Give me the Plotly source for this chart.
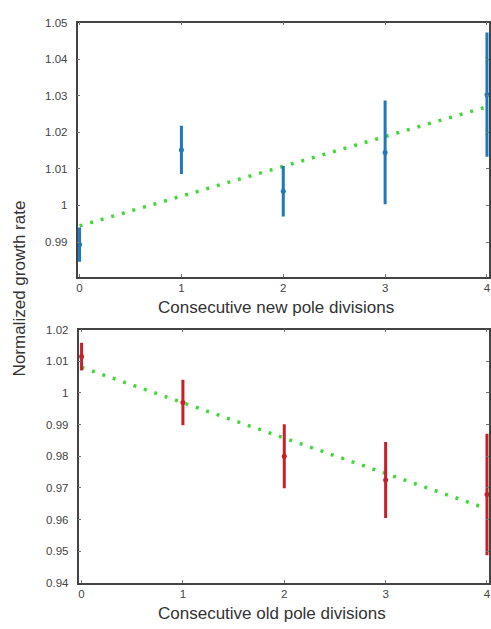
import plotly.graph_objects as go

# Top panel: consecutive new pole divisions
new_x = [0, 1, 2, 3, 4]
new_mean = [0.9893, 1.0152, 1.0039, 1.0145, 1.0303]
new_err = [0.0047, 0.0066, 0.0069, 0.0142, 0.0170]
new_fit_x = [0, 4]
new_fit_y = [0.9944, 1.0270]

# Bottom panel: consecutive old pole divisions
old_x = [0, 1, 2, 3, 4]
old_mean = [1.0115, 0.9970, 0.9800, 0.9725, 0.9679]
old_err = [0.0044, 0.0072, 0.0101, 0.0120, 0.0192]
old_fit_x = [0, 4]
old_fit_y = [1.0081, 0.9634]

top_yticks = [0.99, 1.0, 1.01, 1.02, 1.03, 1.04, 1.05]
bot_yticks = [0.94, 0.95, 0.96, 0.97, 0.98, 0.99, 1.0, 1.01, 1.02]
xticks = [0, 1, 2, 3, 4]

BLUE = "#1f77bd"
RED = "#c8202a"
GREEN = "#44d63a"
FONT = "Liberation Sans, Arial, sans-serif"
W, H = 491, 629

fig = go.Figure()

fig.add_trace(go.Scatter(x=new_fit_x, y=new_fit_y, mode="lines", xaxis="x", yaxis="y",
                         line=dict(color=GREEN, width=3.5, dash="3px,8px"), showlegend=False))
fig.add_trace(go.Scatter(x=new_x, y=new_mean, mode="markers", xaxis="x", yaxis="y",
                         marker=dict(color=BLUE, size=5),
                         error_y=dict(type="data", array=new_err, color=BLUE, thickness=3, width=0),
                         showlegend=False))

fig.add_trace(go.Scatter(x=old_fit_x, y=old_fit_y, mode="lines", xaxis="x2", yaxis="y2",
                         line=dict(color=GREEN, width=3.5, dash="3px,8px"), showlegend=False))
fig.add_trace(go.Scatter(x=old_x, y=old_mean, mode="markers", xaxis="x2", yaxis="y2",
                         marker=dict(color=RED, size=5),
                         error_y=dict(type="data", array=old_err, color=RED, thickness=3, width=0),
                         showlegend=False))

axis_common = dict(showline=True, linecolor="#444", linewidth=1.5, mirror="ticks",
                   ticks="inside", ticklen=3, tickcolor="#777", showgrid=False, zeroline=False,
                   tickfont=dict(family=FONT, size=11.5, color="#444"))

title_font = dict(family=FONT, size=17, color="#333")

fig.update_layout(
    width=W, height=H,
    margin=dict(l=0, r=0, t=0, b=0),
    paper_bgcolor="white", plot_bgcolor="white",
    font=dict(family=FONT, color="#333"),
    xaxis=dict(domain=[77 / W, 1.0], range=[-0.02, 4.02], anchor="y",
               tickvals=xticks, **axis_common),
    yaxis=dict(domain=[1 - 276 / H, 1 - 17 / H], range=[0.9805, 1.05], anchor="x",
               tickvals=top_yticks, ticklabelstandoff=6, **axis_common),
    xaxis2=dict(domain=[78 / W, 1.0], range=[-0.03, 4.02], anchor="y2",
                tickvals=xticks, **axis_common),
    yaxis2=dict(domain=[1 - 588 / H, 1 - 330 / H], range=[0.94, 1.02], anchor="x2",
                tickvals=bot_yticks, ticklabelstandoff=6, **axis_common),
    annotations=[
        dict(text="Normalized growth rate", textangle=-90, x=19 / W, y=1 - 288 / H,
             xref="paper", yref="paper", xanchor="center", yanchor="middle",
             showarrow=False, font=title_font),
        dict(text="Consecutive new pole divisions", x=277 / W, y=1 - 307 / H,
             xref="paper", yref="paper", xanchor="center", yanchor="middle",
             showarrow=False, font=title_font),
        dict(text="Consecutive old pole divisions", x=273 / W, y=1 - 619 / H,
             xref="paper", yref="paper", xanchor="center", yanchor="middle",
             showarrow=False, font=title_font),
    ],
)

fig.write_html("out.html", config={"displayModeBar": False},
               post_script="document.body.style.margin='0';document.body.style.overflow='hidden';")
